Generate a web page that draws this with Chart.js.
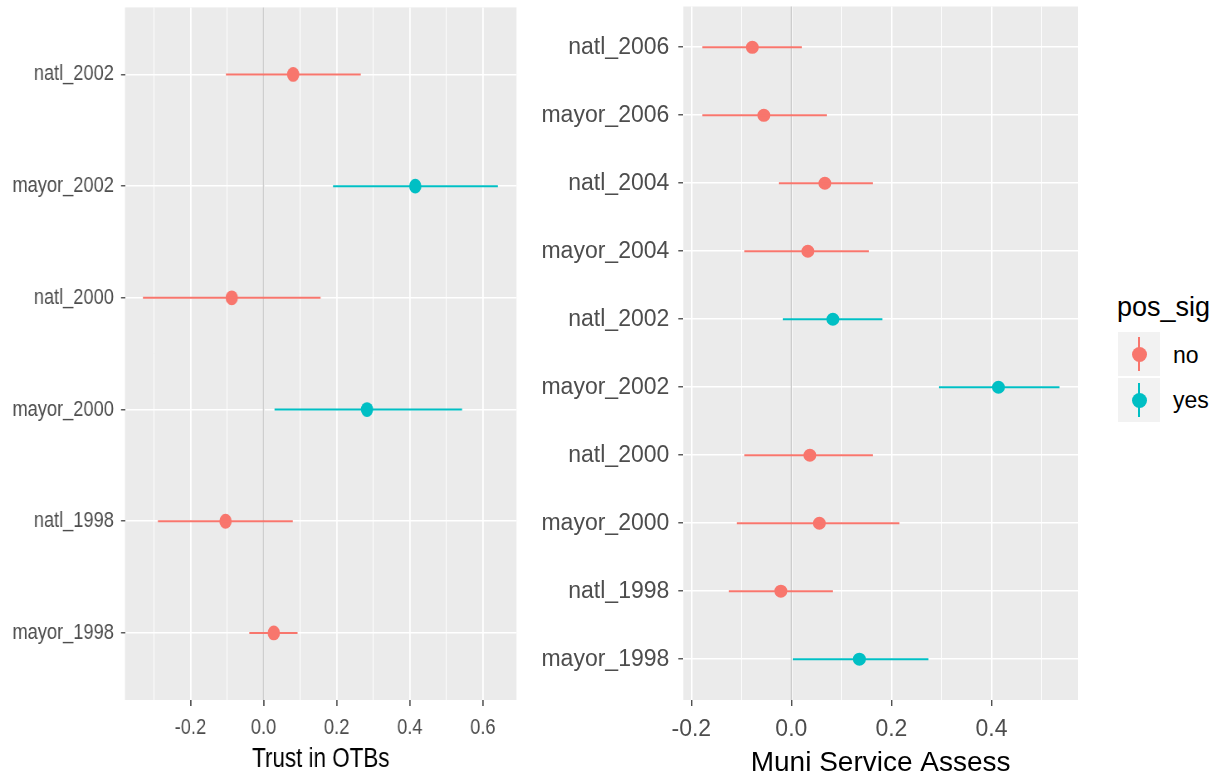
<!DOCTYPE html>
<html>
<head>
<meta charset="utf-8">
<script src="https://cdn.jsdelivr.net/npm/chart.js@4/dist/chart.umd.min.js"></script>
<style>
  html, body { margin: 0; padding: 0; background: #fff; }
  body { width: 1224px; height: 781px; position: relative; overflow: hidden; font-family: "Liberation Sans", Arial, sans-serif; }
  canvas { position: absolute; top: 0; }
  /* le panneau de gauche est condense horizontalement dans l'original */
  #c-trust { left: 0; transform: scaleX(0.83); transform-origin: 0 0; }
  #c-muni { left: 530px; }
  .leg-title { position: absolute; left: 1117px; top: 292px; font-size: 27px; color: #000; }
  .leg-key { position: absolute; left: 1118px; width: 42px; height: 44px; background: #f2f2f2; }
  .leg-key .bar { position: absolute; left: 20px; top: 5px; width: 2px; height: 34px; }
  .leg-key .dot { position: absolute; left: 13.5px; top: 14.5px; width: 15px; height: 15px; border-radius: 50%; }
  .leg-lab { position: absolute; left: 1173px; font-size: 23px; color: #000; }
</style>
</head>
<body>
<canvas id="c-trust" width="639" height="781"></canvas>
<canvas id="c-muni" width="560" height="781"></canvas>

<div class="leg-title">pos_sig</div>
<div class="leg-key" style="top:332px"><div class="bar" style="background:#F8766D"></div><div class="dot" style="background:#F8766D"></div></div>
<div class="leg-lab" style="top:342px">no</div>
<div class="leg-key" style="top:378px"><div class="bar" style="background:#00BFC4"></div><div class="dot" style="background:#00BFC4"></div></div>
<div class="leg-lab" style="top:387px">yes</div>

<script>
// ─── Donnees ────────────────────────────────────────────────────────────────
// du bas vers le haut (ordre des niveaux ggplot)
const trustLabels = ['mayor_1998', 'natl_1998', 'mayor_2000', 'natl_2000', 'mayor_2002', 'natl_2002'];
const trustEst    = [0.028, -0.104, 0.283, -0.087, 0.415, 0.081];
const trustLo     = [-0.039, -0.289, 0.030, -0.330, 0.190, -0.103];
const trustHi     = [0.093, 0.080, 0.543, 0.156, 0.641, 0.266];
const trustSig    = ['no', 'no', 'yes', 'no', 'yes', 'no'];

const muniLabels = ['mayor_1998', 'natl_1998', 'mayor_2000', 'natl_2000', 'mayor_2002',
                    'natl_2002', 'mayor_2004', 'natl_2004', 'mayor_2006', 'natl_2006'];
const muniEst    = [0.136, -0.021, 0.056, 0.037, 0.414, 0.083, 0.033, 0.067, -0.055, -0.078];
const muniLo     = [0.003, -0.125, -0.109, -0.094, 0.295, -0.017, -0.094, -0.025, -0.178, -0.178];
const muniHi     = [0.274, 0.083, 0.216, 0.163, 0.536, 0.182, 0.155, 0.163, 0.071, 0.021];
const muniSig    = ['yes', 'no', 'no', 'no', 'yes', 'yes', 'no', 'no', 'no', 'no'];

const trustMajor = [-0.2, 0, 0.2, 0.4, 0.6];
const trustMinor = [-0.3, -0.1, 0.1, 0.3, 0.5];
const muniMajor  = [-0.2, 0, 0.2, 0.4];
const muniMinor  = [-0.1, 0.1, 0.3, 0.5];

const sigColors = { no: '#F8766D', yes: '#00BFC4' };
const refLine = 0;

// ─── Plugins ────────────────────────────────────────────────────────────────

const panelBg = {
  id: 'panelBg',
  beforeDraw(chart) {
    const { ctx, chartArea: a } = chart;
    ctx.save();
    ctx.fillStyle = '#ebebeb';
    ctx.fillRect(a.left, a.top, a.right - a.left, a.bottom - a.top);
    ctx.restore();
  },
};

const vline = {
  id: 'vline',
  beforeDatasetsDraw(chart, args, opts) {
    const { ctx, chartArea: a, scales } = chart;
    const px = scales.x.getPixelForValue(refLine);
    ctx.save();
    ctx.strokeStyle = '#cdcdcd';
    ctx.lineWidth = opts.width || 1.3;
    ctx.beginPath();
    ctx.moveTo(px, a.top);
    ctx.lineTo(px, a.bottom);
    ctx.stroke();
    ctx.restore();
  },
};

// ─── Construction d'un panneau ──────────────────────────────────────────────

function buildPanel(canvasId, cfg) {
  const { labels, est, lo, hi, sig, major, minor, xmin, xmax, title } = cfg;
  const isMajor = v => major.some(m => Math.abs(m - v) < 1e-9);
  const k = cfg.stretch;  // compensation de la compression horizontale

  const datasets = labels.map((_, i) => ({
    type: 'scatter',
    showLine: true,
    data: [{ x: lo[i], y: i + 1 }, { x: hi[i], y: i + 1 }],
    borderColor: sigColors[sig[i]],
    borderWidth: 2,
    pointRadius: 0,
  }));
  ['no', 'yes'].forEach(g => {
    datasets.push({
      type: 'scatter',
      data: labels.map((_, i) => ({ x: est[i], y: i + 1 })).filter((_, i) => sig[i] === g),
      backgroundColor: sigColors[g],
      borderWidth: 0,
      pointRadius: cfg.pointRadius,
      pointHoverRadius: cfg.pointRadius,
    });
  });

  return new Chart(document.getElementById(canvasId), {
    type: 'scatter',
    data: { datasets },
    options: {
      responsive: false,
      animation: false,
      layout: { padding: { left: 0, right: cfg.padRight, top: 6, bottom: 0 } },
      plugins: {
        legend: { display: false },
        tooltip: { enabled: false },
        vline: { width: 1.3 * k },
      },
      scales: {
        x: {
          type: 'linear',
          min: xmin,
          max: xmax,
          afterBuildTicks: s => { s.ticks = [...minor, ...major].sort((a, b) => a - b).map(v => ({ value: v })); },
          afterFit: s => { s.height = 81; s.paddingLeft = 0; s.paddingRight = 0; },
          border: { display: false },
          grid: {
            color: '#ffffff',
            lineWidth: ctx => (ctx.tick && isMajor(ctx.tick.value) ? 1.5 * k : 0.8 * k),
            tickColor: ctx => (ctx.tick && isMajor(ctx.tick.value) ? '#333333' : 'rgba(0,0,0,0)'),
            tickLength: 6,
            tickWidth: 1.2 * k,
          },
          ticks: {
            autoSkip: false,
            maxRotation: 0,
            padding: cfg.xTickPad,
            color: '#4d4d4d',
            font: cfg.tickFont,
            callback: v => (isMajor(v) ? v.toFixed(1) : ''),
          },
          title: {
            display: true,
            text: title,
            color: '#000000',
            font: cfg.titleFont,
            padding: { top: 0, bottom: cfg.titlePad },
          },
        },
        y: {
          type: 'linear',
          min: 0.4,
          max: labels.length + 0.6,
          afterBuildTicks: s => { s.ticks = labels.map((_, i) => ({ value: i + 1 })); },
          afterFit: s => { s.width = cfg.yWidth; s.paddingTop = 0; s.paddingBottom = 0; },
          border: { display: false },
          grid: {
            color: '#ffffff',
            lineWidth: 1.6,
            tickColor: '#333333',
            tickLength: cfg.yTickLen,
            tickWidth: 1.2,
          },
          ticks: {
            autoSkip: false,
            padding: cfg.yTickPad,
            color: '#4d4d4d',
            font: cfg.labelFont,
            callback: v => labels[Math.round(v) - 1] || '',
          },
        },
      },
    },
    plugins: [panelBg, vline],
  });
}

const sans = '"Liberation Sans", Arial, sans-serif';

// panneau gauche : coordonnees logiques = pixels / 0.83
buildPanel('c-trust', {
  labels: trustLabels, est: trustEst, lo: trustLo, hi: trustHi, sig: trustSig,
  major: trustMajor, minor: trustMinor, xmin: -0.379, xmax: 0.692,
  title: 'Trust in OTBs',
  stretch: 1 / 0.83,
  padRight: 16.7, yWidth: 150.6, yTickLen: 4.8, yTickPad: 8.5, xTickPad: 9, titlePad: 4.8,
  pointRadius: 7.4,
  tickFont: { family: sans, size: 22 },
  labelFont: { family: sans, size: 22 },
  titleFont: { family: sans, size: 27 },
});

buildPanel('c-muni', {
  labels: muniLabels, est: muniEst, lo: muniLo, hi: muniHi, sig: muniSig,
  major: muniMajor, minor: muniMinor, xmin: -0.216, xmax: 0.573,
  title: 'Muni Service Assess',
  stretch: 1,
  padRight: 12, yWidth: 153.3, yTickLen: 5, yTickPad: 9, xTickPad: 10, titlePad: 1.2,
  pointRadius: 6.5,
  tickFont: { family: sans, size: 23 },
  labelFont: { family: sans, size: 23 },
  titleFont: { family: sans, size: 28 },
});
</script>
</body>
</html>
